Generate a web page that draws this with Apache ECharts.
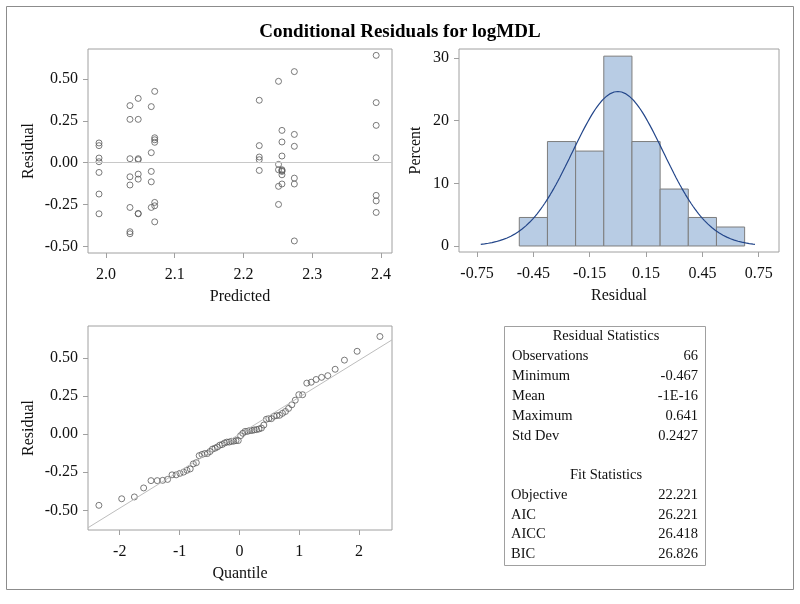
<!DOCTYPE html>
<html>
<head>
<meta charset="utf-8">
<script src="https://cdn.jsdelivr.net/npm/echarts@6/dist/echarts.min.js"></script>
<style>
html, body { margin: 0; padding: 0; background: #fff; }
#main { width: 800px; height: 604px; }
</style>
</head>
<body>
<div id="main"></div>
<script>
// residual vs predicted (one entry per observation)
var predicted = [
  1.990, 1.990, 1.990, 1.990, 1.990, 1.990, 1.990,
  2.035, 2.035, 2.035, 2.035, 2.035, 2.035, 2.035, 2.035,
  2.047, 2.047, 2.047, 2.047, 2.047, 2.047, 2.047, 2.047,
  2.066, 2.066, 2.066, 2.066, 2.066,
  2.071, 2.071, 2.071, 2.071, 2.071, 2.071, 2.071,
  2.223, 2.223, 2.223, 2.223, 2.223,
  2.251, 2.251, 2.251, 2.251, 2.251,
  2.256, 2.256, 2.256, 2.256, 2.256, 2.256, 2.256, 2.256,
  2.274, 2.274, 2.274, 2.274, 2.274, 2.274,
  2.393, 2.393, 2.393, 2.393, 2.393, 2.393, 2.393
];
var residual = [
  0.118, 0.102, 0.028, 0.006, -0.058, -0.187, -0.305,
  0.341, 0.259, 0.024, -0.084, -0.133, -0.267, -0.412, -0.424,
  0.384, 0.259, 0.024, 0.018, -0.068, -0.098, -0.303, -0.305,
  0.335, 0.060, -0.052, -0.114, -0.267,
  0.426, 0.149, 0.137, 0.122, -0.237, -0.257, -0.353,
  0.373, 0.102, 0.034, 0.018, -0.046,
  0.486, -0.010, -0.042, -0.141, -0.249,
  0.193, 0.124, 0.040, -0.042, -0.047, -0.052, -0.072, -0.127,
  0.544, 0.169, 0.098, -0.092, -0.127, -0.467,
  0.641, 0.359, 0.223, 0.030, -0.195, -0.228, -0.297
];

// histogram bins (percent)
var binMid = [-0.45, -0.30, -0.15, 0.00, 0.15, 0.30, 0.45, 0.60];
var binPct = [4.55, 16.67, 15.15, 30.30, 16.67, 9.09, 4.55, 3.03];
var binWidth = 0.15;

// Q-Q plot
var qqQuantile = [
  -2.348, -1.967, -1.755, -1.600, -1.477, -1.373, -1.282, -1.200, -1.126, -1.057,
  -0.993, -0.933, -0.876, -0.822, -0.770, -0.720, -0.672, -0.625, -0.579, -0.535,
  -0.492, -0.450, -0.408, -0.368, -0.327, -0.288, -0.248, -0.210, -0.171, -0.133,
  -0.095, -0.057, -0.019, 0.019, 0.057, 0.095, 0.133, 0.171, 0.210, 0.248,
  0.288, 0.327, 0.368, 0.408, 0.450, 0.492, 0.535, 0.579, 0.625, 0.672,
  0.720, 0.770, 0.822, 0.876, 0.933, 0.993, 1.057, 1.126, 1.200, 1.282,
  1.373, 1.477, 1.600, 1.755, 1.967, 2.348
];
var qqResidual = [
  -0.467, -0.424, -0.412, -0.353, -0.305, -0.305, -0.303, -0.297, -0.267, -0.267,
  -0.257, -0.249, -0.237, -0.228, -0.195, -0.187, -0.141, -0.133, -0.127, -0.127,
  -0.114, -0.098, -0.092, -0.084, -0.072, -0.068, -0.058, -0.052, -0.052, -0.047,
  -0.046, -0.042, -0.042, -0.010, 0.006, 0.018, 0.018, 0.024, 0.024, 0.028,
  0.030, 0.034, 0.040, 0.060, 0.098, 0.102, 0.102, 0.118, 0.122, 0.124,
  0.137, 0.149, 0.169, 0.193, 0.223, 0.259, 0.259, 0.335, 0.341, 0.359,
  0.373, 0.384, 0.426, 0.486, 0.544, 0.641
];

// tick labels
var predTicks = [2.0, 2.1, 2.2, 2.3, 2.4];
var residTicks = [-0.50, -0.25, 0.00, 0.25, 0.50];
var histXTicks = [-0.75, -0.45, -0.15, 0.15, 0.45, 0.75];
var histYTicks = [0, 10, 20, 30];
var qqXTicks = [-2, -1, 0, 1, 2];

// stats table
var residStatLabels = ['Observations', 'Minimum', 'Mean', 'Maximum', 'Std Dev'];
var residStatValues = ['66', '-0.467', '-1E-16', '0.641', '0.2427'];
var fitStatLabels = ['Objective', 'AIC', 'AICC', 'BIC'];
var fitStatValues = ['22.221', '26.221', '26.418', '26.826'];

var residMean = 0;
var residSd = 0.2427;

var serif = 'Liberation Serif';
var frameColor = '#a0a0a0';

// normal density scaled to percent per bin
var normalCurve = [];
for (var x = -0.73; x <= 0.7301; x += 0.01) {
  var z = (x - residMean) / residSd;
  var pdf = Math.exp(-0.5 * z * z) / (residSd * Math.sqrt(2 * Math.PI));
  normalCurve.push([x, 100 * binWidth * pdf]);
}

function makeAxis(grid, min, max, ticks, digits, name, gap, isY) {
  return {
    type: 'value',
    gridIndex: grid,
    min: min,
    max: max,
    name: name,
    nameLocation: 'middle',
    nameGap: gap,
    nameTextStyle: { fontFamily: serif, fontSize: 16, color: '#111' },
    axisLine: { show: false, onZero: false },
    axisTick: { show: true, length: 5, customValues: ticks, lineStyle: { color: frameColor } },
    axisLabel: {
      customValues: ticks,
      fontFamily: serif,
      fontSize: 16,
      color: '#111',
      margin: isY ? 10 : 14,
      formatter: function (v) { return v.toFixed(digits); }
    },
    splitLine: { show: false }
  };
}

var chart = echarts.init(document.getElementById('main'), null, { renderer: 'canvas' });

var gridBase = { show: true, borderColor: frameColor, borderWidth: 1, backgroundColor: 'transparent' };

var graphics = [
  { type: 'rect', shape: { x: 6.5, y: 6.5, width: 787, height: 583 },
    style: { fill: 'none', stroke: '#8c8c8c', lineWidth: 1 }, silent: true },
  { type: 'rect', shape: { x: 504.5, y: 326.5, width: 201, height: 239 },
    style: { fill: 'none', stroke: frameColor, lineWidth: 1 }, silent: true },
  { type: 'text', x: 606, y: 336,
    style: { text: 'Residual Statistics', font: '14.5px ' + serif, fill: '#111', align: 'center', verticalAlign: 'middle' } },
  { type: 'text', x: 606, y: 475,
    style: { text: 'Fit Statistics', font: '14.5px ' + serif, fill: '#111', align: 'center', verticalAlign: 'middle' } }
];
residStatLabels.forEach(function (lab, i) {
  var y = 356 + i * 20;
  graphics.push({ type: 'text', x: 512, y: y,
    style: { text: lab, font: '14.5px ' + serif, fill: '#111', align: 'left', verticalAlign: 'middle' } });
  graphics.push({ type: 'text', x: 698, y: y,
    style: { text: residStatValues[i], font: '14.5px ' + serif, fill: '#111', align: 'right', verticalAlign: 'middle' } });
});
fitStatLabels.forEach(function (lab, i) {
  var y = 495 + i * 19.8;
  graphics.push({ type: 'text', x: 511, y: y,
    style: { text: lab, font: '14.5px ' + serif, fill: '#111', align: 'left', verticalAlign: 'middle' } });
  graphics.push({ type: 'text', x: 698, y: y,
    style: { text: fitStatValues[i], font: '14.5px ' + serif, fill: '#111', align: 'right', verticalAlign: 'middle' } });
});

var option = {
  animation: false,
  backgroundColor: '#fff',
  title: {
    text: 'Conditional Residuals for logMDL',
    left: 'center',
    top: 18,
    textStyle: { fontFamily: serif, fontSize: 19, fontWeight: 'bold', color: '#000' }
  },
  grid: [
    Object.assign({ left: 88, top: 49, width: 304, height: 204 }, gridBase),
    Object.assign({ left: 459, top: 49, width: 320, height: 203 }, gridBase),
    Object.assign({ left: 88, top: 326, width: 304, height: 204 }, gridBase)
  ],
  xAxis: [
    makeAxis(0, 1.974, 2.416, predTicks, 1, 'Predicted', 36, false),
    makeAxis(1, -0.846, 0.858, histXTicks, 2, 'Residual', 36, false),
    makeAxis(2, -2.53, 2.55, qqXTicks, 0, 'Quantile', 36, false)
  ],
  yAxis: [
    makeAxis(0, -0.539, 0.679, residTicks, 2, 'Residual', 51, true),
    makeAxis(1, -0.96, 31.44, histYTicks, 0, 'Percent', 35, true),
    makeAxis(2, -0.629, 0.71, residTicks, 2, 'Residual', 51, true)
  ],
  graphic: graphics,
  series: [
    {
      type: 'scatter',
      xAxisIndex: 0, yAxisIndex: 0,
      symbol: 'circle',
      symbolSize: 6,
      itemStyle: { color: 'transparent', borderColor: '#5a5a5a', borderWidth: 1 },
      data: predicted.map(function (p, i) { return [p, residual[i]]; }),
      markLine: {
        silent: true,
        symbol: 'none',
        label: { show: false },
        lineStyle: { color: '#c8c8c8', type: 'solid', width: 1 },
        data: [{ yAxis: 0 }]
      }
    },
    {
      type: 'custom',
      xAxisIndex: 1, yAxisIndex: 1,
      data: binMid.map(function (m, i) { return [m, binPct[i]]; }),
      renderItem: function (params, api) {
        var mid = api.value(0), pct = api.value(1);
        var lo = api.coord([mid - binWidth / 2, 0]);
        var hi = api.coord([mid + binWidth / 2, pct]);
        return {
          type: 'rect',
          shape: { x: lo[0], y: hi[1], width: hi[0] - lo[0], height: lo[1] - hi[1] },
          style: { fill: '#b8cce4', stroke: '#7d7d7d', lineWidth: 1 }
        };
      }
    },
    {
      type: 'line',
      xAxisIndex: 1, yAxisIndex: 1,
      showSymbol: false,
      lineStyle: { color: '#23468a', width: 1.2 },
      data: normalCurve
    },
    {
      type: 'line',
      xAxisIndex: 2, yAxisIndex: 2,
      showSymbol: false,
      lineStyle: { color: '#bdbdbd', width: 1 },
      data: [[-2.53, residMean - 2.53 * residSd], [2.55, residMean + 2.55 * residSd]]
    },
    {
      type: 'scatter',
      xAxisIndex: 2, yAxisIndex: 2,
      symbol: 'circle',
      symbolSize: 6,
      itemStyle: { color: 'transparent', borderColor: '#5a5a5a', borderWidth: 1 },
      data: qqQuantile.map(function (q, i) { return [q, qqResidual[i]]; })
    }
  ]
};

chart.setOption(option);
</script>
</body>
</html>
